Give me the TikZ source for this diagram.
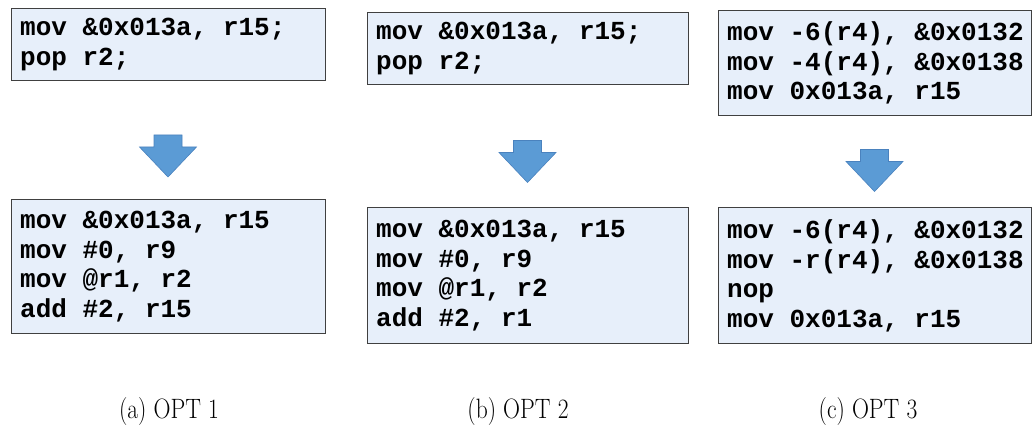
\documentclass[tikz,border=0pt]{standalone}
\usepackage{fontspec}
\usepackage{graphicx}
\newfontfamily\codefont{Liberation Mono}
\definecolor{codefill}{RGB}{231,239,250}
\definecolor{codeedge}{RGB}{64,64,64}
\definecolor{flowblue}{RGB}{91,155,213}
\definecolor{flowedge}{RGB}{74,130,190}
% bold monospaced listing font with fixed-width spaces
\newcommand\listingfont{\codefont\bfseries\fontsize{26}{29.5}\selectfont
  \spaceskip=\fontcharwd\font`x\relax\xspaceskip=\spaceskip}
\tikzset{
  codebox/.style={draw=codeedge, line width=1.3pt, fill=codefill, anchor=north west,
    inner sep=0pt},
  codetext/.style={anchor=west, align=left, inner sep=0pt, xshift=9pt,
    font=\listingfont},
  flowarrow/.style={fill=flowblue, draw=flowedge, line width=0.6pt},
  caption/.style={font=\fontsize{28}{32}\selectfont}
}
% block arrow pointing down, centred on the given point
\newcommand\blockarrow[1]{%
  \draw[flowarrow] (#1) ++(-14,-21) -- ++(28,0) -- ++(0,12) -- ++(14.5,0)
    -- ++(-28.5,30) -- ++(-28.5,-30) -- ++(14.5,0) -- cycle;}
\newcommand\subcap[1]{\scalebox{0.84}[1]{#1}}
\begin{document}
\begin{tikzpicture}[x=1pt,y=-1pt]
\useasboundingbox (0,0) rectangle (1033,435);

% (a)
\node[codebox, minimum width=314pt, minimum height=72pt] (a1) at (11,8) {};
\node[codetext] (a1t) at (a1.west) {mov \&0x013a, r15;\\pop r2;};
\node[codebox, minimum width=314pt, minimum height=134pt] (a2) at (11,199) {};
\node[codetext] (a2t) at (a2.west)
  {mov \&0x013a, r15\\mov \#0, r9\\mov @r1, r2\\add \#2, r15};
\coordinate (a) at (168,156);
\blockarrow{a}

% (b)
\node[codebox, minimum width=321pt, minimum height=72pt] (b1) at (367,12) {};
\node[codetext] (b1t) at (b1.west) {mov \&0x013a, r15;\\pop r2;};
\node[codebox, minimum width=321pt, minimum height=136pt] (b2) at (367,207) {};
\node[codetext] (b2t) at (b2.west)
  {mov \&0x013a, r15\\mov \#0, r9\\mov @r1, r2\\add \#2, r1};
\coordinate (b) at (527.5,161.5);
\blockarrow{b}

% (c)
\node[codebox, minimum width=313pt, minimum height=105pt] (c1) at (718,10) {};
\node[codetext] (c1t) at (c1.west)
  {mov -6(r4), \&0x0132\\mov -4(r4), \&0x0138\\mov 0x013a, r15};
\node[codebox, minimum width=313pt, minimum height=136pt] (c2) at (718,207) {};
\node[codetext] (c2t) at (c2.west)
  {mov -6(r4), \&0x0132\\mov -r(r4), \&0x0138\\nop\\mov 0x013a, r15};
\coordinate (c) at (874.5,170.5);
\blockarrow{c}

% sub-captions
\node[caption] (capa) at (169,412) {\subcap{(a) OPT 1}};
\node[caption] (capb) at (518,412) {\subcap{(b) OPT 2}};
\node[caption] (capc) at (868,412) {\subcap{(c) OPT 3}};
\end{tikzpicture}
\end{document}
